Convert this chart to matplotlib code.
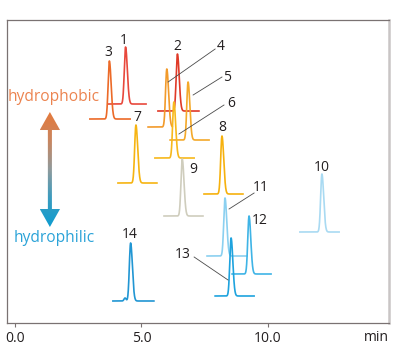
import numpy as np
import matplotlib
matplotlib.use("Agg")
import matplotlib.pyplot as plt
from matplotlib.colors import LinearSegmentedColormap
from matplotlib.patches import Polygon

plt.rcParams['font.family'] = ['Open Sans', 'DejaVu Sans']

# peak data (retention time in min, baseline offset, height, trace start/end)
labels = ['1', '2', '3', '4', '5', '6', '7', '8', '9', '10', '11', '12', '13', '14']
rt = [4.37, 6.42, 3.73, 6.00, 6.84, 6.28, 4.78, 8.18, 6.61, 12.13, 8.30, 9.25, 8.54, 4.57]
offset = [219, 212, 204, 196, 183, 165, 140, 129, 107, 91, 67, 49, 27, 22]
height = [57, 57, 58, 58, 58, 56, 58, 58, 57, 58, 58, 58, 58, 58]
t_start = [3.68, 5.65, 2.96, 5.26, 6.13, 5.53, 4.07, 7.47, 5.89, 11.26, 7.59, 8.58, 7.91, 3.87]
t_end = [5.18, 7.27, 4.55, 6.21, 7.67, 7.08, 5.61, 9.01, 7.43, 12.81, 9.17, 10.12, 9.45, 5.49]
colors = ['#e8483c', '#e03a28', '#ec6a28', '#f29a2a', '#f4a92a', '#f7b81c',
          '#f6b412', '#f6b10e', '#cfcdbd', '#a9daf2', '#8bd0f0', '#3fb4e6',
          '#1ea3de', '#2196d3']

# label positions and leader lines
label_x = [4.31, 6.40, 3.68, 8.14, 8.38, 8.54, 4.82, 8.18, 7.04, 12.13, 9.72, 9.68, 6.64, 4.55]
label_y = [283, 277, 271, 277, 246, 220, 206, 196, 154, 156, 136, 103, 68, 89]
leaders = {'4': [(7.91, 274), (6.05, 241)],
           '5': [(8.18, 246), (7.04, 228)],
           '6': [(8.26, 218), (6.48, 189)],
           '11': [(9.45, 130), (8.46, 114)],
           '13': [(7.08, 66), (8.42, 43)]}

# small shoulder in front of peak 14
shoulder_rt = 4.35
shoulder_h = 3

xticks = [0, 5, 10]
xtick_labels = ['0.0', '5.0', '10.0']


def peak(t, t0, h, sl=0.05, sr=0.07):
    s = np.where(t < t0, sl, sr)
    return h * np.exp(-0.5 * ((t - t0) / s) ** 2)


fig = plt.figure(figsize=(4.09, 3.53), dpi=100)
ax = fig.add_axes([0.0183, 0.085, 0.9327, 0.8583])

for i in range(len(rt)):
    t = np.linspace(t_start[i], t_end[i], 600)
    y = offset[i] + peak(t, rt[i], height[i])
    if labels[i] == '14':
        y = y + peak(t, shoulder_rt, shoulder_h, 0.04, 0.04)
    ax.plot(t, y, color=colors[i], lw=1.2, solid_joinstyle='round')

for i in range(len(labels)):
    ax.text(label_x[i], label_y[i], labels[i], ha='center', va='center',
            fontsize=10, color='#231f20')

for k in leaders:
    (x0, y0), (x1, y1) = leaders[k]
    ax.plot([x0, x1], [y0, y1], color='#4a4a4a', lw=0.6)

# gradient double arrow
ax_x = 1.38
hw, sw = 0.40, 0.08
top, top_base, bot_base, bot = 211, 193, 114, 96
verts = [(ax_x, top), (ax_x + hw, top_base), (ax_x + sw, top_base),
         (ax_x + sw, bot_base), (ax_x + hw, bot_base), (ax_x, bot),
         (ax_x - hw, bot_base), (ax_x - sw, bot_base), (ax_x - sw, top_base),
         (ax_x - hw, top_base)]
arrow = Polygon(verts, closed=True, facecolor='none', edgecolor='none')
ax.add_patch(arrow)
cmap = LinearSegmentedColormap.from_list('hyd', ['#0e9dd0', '#3a9cc0', '#8f9a9c', '#c98660', '#e57a3c'])
grad = np.linspace(0, 1, 256).reshape(-1, 1)
im = ax.imshow(grad, cmap=cmap, origin='lower', aspect='auto',
               extent=[ax_x - hw, ax_x + hw, bot, top], zorder=3)
im.set_clip_path(arrow)

ax.text(-0.28, 226, 'hydrophobic', ha='left', va='center', fontsize=11.2, color='#ec8450')
ax.text(-0.04, 85, 'hydrophilic', ha='left', va='center', fontsize=11.2, color='#2ba3d8')

ax.set_xlim(-0.296, 14.78)
ax.set_ylim(0, 303)
ax.set_xticks(xticks)
ax.set_xticklabels(xtick_labels)
ax.set_yticks([])
ax.tick_params(axis='x', direction='out', length=3, width=0.8, color='#7a7272',
               labelsize=10, pad=3, labelcolor='#231f20')
for side in ['left', 'bottom', 'top']:
    ax.spines[side].set_color('#7a7272')
    ax.spines[side].set_linewidth(0.9)
ax.spines['right'].set_color('#c9c5c5')
ax.spines['right'].set_linewidth(1.8)

ax.text(1.0, -0.047, 'min', transform=ax.transAxes, ha='right', va='center',
        fontsize=10, color='#231f20')

fig.savefig('out.png', dpi=100)
